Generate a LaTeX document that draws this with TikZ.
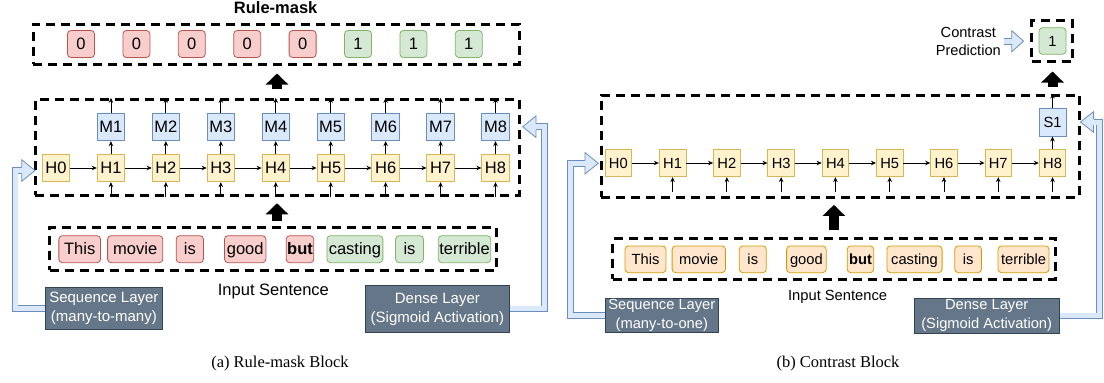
\documentclass[tikz,border=0pt]{standalone}
\usepackage{fontspec}
\setmainfont{Liberation Serif}
\setsansfont{Liberation Sans}
\usepackage{xcolor}
\usetikzlibrary{arrows.meta}
\usetikzlibrary{calc}

\definecolor{redfill}{HTML}{F8CECC}
\definecolor{redline}{HTML}{B85450}
\definecolor{greenfill}{HTML}{D5E8D4}
\definecolor{greenline}{HTML}{82B366}
\definecolor{bluefill}{HTML}{DAE8FC}
\definecolor{blueline}{HTML}{6C8EBF}
\definecolor{yellowfill}{HTML}{FFF2CC}
\definecolor{yellowline}{HTML}{D6B656}
\definecolor{orangefill}{HTML}{FFE6CC}
\definecolor{orangeline}{HTML}{D79B00}
\definecolor{slatefill}{HTML}{647687}
\definecolor{slateline}{HTML}{314354}

\tikzset{
  bigfont/.style={font=\sffamily\fontsize{16.5}{19}\selectfont, text height=14.9pt, text depth=3.5pt},
  smallfont/.style={font=\sffamily\fontsize{14.7}{19}\selectfont, text height=13.3pt, text depth=3.1pt},
  cell/.style={draw, line width=0.8pt, inner sep=0pt, minimum width=27.5pt, minimum height=27.5pt},
  word/.style={cell, rounded corners=3.5pt},
  dashbox/.style={draw, line width=3pt, dash pattern=on 9pt off 6pt, inner sep=0pt},
  layer/.style={draw=slateline, fill=slatefill, text=white, line width=0.8pt, align=center, inner sep=0pt},
  flow/.style={line width=0.8pt, -{Stealth[length=5pt,width=4.5pt]}},
  bigarrow/.style={line width=10pt, -{Triangle[length=11pt,width=22pt]}},
  flexshaft/.style={draw=blueline, double=bluefill, double distance=5pt, line width=0.8pt, line join=miter},
  flexhead/.style={draw=blueline, fill=bluefill, line width=0.8pt, line join=miter}
}

% blue hollow arrow head: tip, signed head length, half width
\newcommand{\flexhead}[3]{%
  \filldraw[flexhead] ($(#1)+(#2,-2.9)$) -- ++(0,{-(#3-2.9)}) -- (#1)
    -- ($(#1)+(#2,#3)$) -- ++(0,{-(#3-2.9)});}

\begin{document}
\begin{tikzpicture}[x=1pt,y=-1pt]
\useasboundingbox (0,0) rectangle (1104,383);

%%%%%%%% (a) Rule-mask block %%%%%%%%
\node[font=\sffamily\bfseries\fontsize{16.5}{19}\selectfont] (titleL) at (275.7,7.5) {Rule-mask};
\node[dashbox, minimum width=485.9pt, minimum height=40pt] (ruleL) at (276.4,44) {};
\node[dashbox, minimum width=484pt, minimum height=95.7pt] (midL) at (277,147.2) {};
\node[dashbox, minimum width=447.2pt, minimum height=42.5pt] (inL) at (273.1,248.8) {};

% mask values
\foreach \i/\v/\col in {0/0/red,1/0/red,2/0/red,3/0/red,4/0/red,5/1/green,6/1/green,7/1/green}
  \node[word, bigfont, minimum width=27pt, minimum height=27pt, draw=\col line, fill=\col fill] (kL\i) at ({81+55.4*\i},44) {\v};

% hidden states and outputs
\foreach \i in {0,...,8}
  \node[cell, bigfont, draw=yellowline, fill=yellowfill] (hL\i) at ({56+54.94*\i},168) {H\i};
\foreach \i in {1,...,8}
  \node[cell, bigfont, draw=blueline, fill=bluefill] (mL\i) at ({56+54.94*\i},127) {M\i};

\foreach \i [evaluate=\i as \j using int(\i+1)] in {0,...,7}
  \draw[flow] (hL\i) -- (hL\j);
\foreach \i in {1,...,8}{
  \draw[flow] (hL\i) -- (mL\i);
  \draw[flow] (mL\i) -- (mL\i |- midL.north);
  \draw[flow] (hL\i |- midL.south) -- (hL\i);
}

% input sentence
\foreach \i/\cx/\w/\t/\col in {1/79.7/41.7/This/red,2/135.2/55.2/movie/red,3/189.8/27.2/is/red,
    4/245.2/41.4/good/red,5/300/27.6/{\textbf{but}}/red,6/354.9/55.9/casting/green,
    7/409.5/27.9/is/green,8/464.5/52.4/terrible/green}
  \node[word, bigfont, minimum width=\w pt, minimum height=27pt, draw=\col line, fill=\col fill] (wL\i) at (\cx,249.2) {\t};
\node[bigfont] (captL) at (273.4,289.3) {Input Sentence};

\draw[bigarrow, shorten <=9pt, shorten >=8pt] (midL.north) -- (midL.north |- ruleL.south);
\draw[bigarrow, shorten <=5.5pt, shorten >=6.7pt] (midL.south |- inL.north) -- (midL.south);

% layers
\node[layer, font=\sffamily\fontsize{15}{19}\selectfont, minimum width=116.3pt, minimum height=41.6pt] (seqL) at (103.9,308.5) {Sequence Layer\\(many-to-many)};
\node[layer, font=\sffamily\fontsize{15}{19}\selectfont, minimum width=143.8pt, minimum height=47.7pt] (denseL) at (437.4,308.9) {Dense Layer\\(Sigmoid Activation)};

\coordinate (tipL) at (35,170.5);
\draw[flexshaft] (seqL.west) -| ($(tipL)+(-20,0)$) -- ($(tipL)+(-13.3,0)$);
\flexhead{tipL}{-13.3}{10.8}
\coordinate (tip2L) at (522.7,126.7);
\draw[flexshaft] (denseL.east) -| ($(tip2L)+(21.7,0)$) -- ($(tip2L)+(13.3,0)$);
\flexhead{tip2L}{13.3}{10.8}

\node[font=\fontsize{16.5}{20}\selectfont, anchor=base] (subA) at (280,367) {(a) Rule-mask Block};

%%%%%%%% (b) Contrast block %%%%%%%%
\node[dashbox, minimum width=41pt, minimum height=41pt] (predR) at (1052.2,41.2) {};
\node[word, smallfont, minimum width=27pt, minimum height=26.6pt, draw=greenline, fill=greenfill] (oneR) at (1052.5,41) {1};
\node[font=\sffamily\fontsize{14.6}{17.7}\selectfont, align=center, inner sep=0pt] (ctext) at (968.3,41.2) {Contrast\\Prediction};
\node[dashbox, minimum width=478.3pt, minimum height=102pt] (midR) at (840.2,146) {};
\node[dashbox, minimum width=442.3pt, minimum height=40.2pt] (inR) at (833.9,258.9) {};

\foreach \i in {0,...,8}
  \node[cell, smallfont, minimum width=26.7pt, minimum height=27.4pt, draw=yellowline, fill=yellowfill] (hR\i) at ({618.3+54.28*\i},163) {H\i};
\node[cell, smallfont, minimum width=27pt, minimum height=27.7pt, draw=blueline, fill=bluefill] (sR) at (1052.5,122.2) {S1};

\foreach \i [evaluate=\i as \j using int(\i+1)] in {0,...,7}
  \draw[flow] (hR\i) -- (hR\j);
\foreach \i in {1,...,8}
  \draw[flow, shorten <=7pt] (hR\i |- midR.south) -- (hR\i);
\draw[flow] (hR8) -- (sR);
\draw[flow] (sR) -- (sR |- midR.north);

\foreach \i/\cx/\w/\t in {1/645.5/41/This,2/698.8/53.4/movie,3/752.8/27/is,4/806.4/39.6/good,
    5/860.5/26.6/{\textbf{but}},6/914.5/55.2/casting,7/968.1/26.6/is,8/1023.5/51/terrible}
  \node[word, smallfont, minimum width=\w pt, minimum height=26.7pt, draw=orangeline, fill=orangefill] (wR\i) at (\cx,259.3) {\t};
\node[smallfont] (captR) at (837.6,295) {Input Sentence};

\draw[bigarrow, shorten <=6.7pt, shorten >=8.3pt] (sR.north |- midR.north) -- (sR.north |- predR.south);
\draw[bigarrow, shorten <=7pt, shorten >=6.4pt] (inR.north) -- (inR.north |- midR.south);

\node[layer, font=\sffamily\fontsize{14.7}{19}\selectfont, minimum width=113.6pt, minimum height=34.4pt] (seqR) at (661.8,315.5) {Sequence Layer\\(many-to-one)};
\node[layer, font=\sffamily\fontsize{14.7}{19}\selectfont, minimum width=145.3pt, minimum height=35pt] (denseR) at (986.7,315.8) {Dense Layer\\(Sigmoid Activation)};

\coordinate (tipR) at (598.3,163.3);
\draw[flexshaft] (seqR.west) -| ($(tipR)+(-27.6,0)$) -- ($(tipR)+(-13.3,0)$);
\flexhead{tipR}{-13.3}{10.7}
\coordinate (tip2R) at (1080.5,122);
\draw[flexshaft] (denseR.east) -| ($(tip2R)+(18.7,0)$) -- ($(tip2R)+(13,0)$);
\flexhead{tip2R}{13}{10.3}

\coordinate (tipC) at ($(predR.west)+(-6.7,0)$);
\draw[flexshaft] ([xshift=3pt]ctext.east) -- ($(tipC)+(-11.7,0)$);
\flexhead{tipC}{-11.7}{10.5}

\node[font=\fontsize{16.5}{20}\selectfont, anchor=base] (subB) at (838,367) {(b) Contrast Block};
\end{tikzpicture}
\end{document}
